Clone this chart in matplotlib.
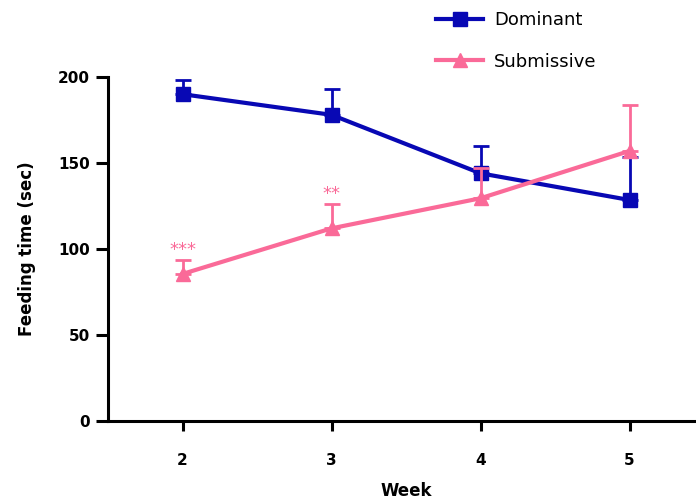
import matplotlib.pyplot as plt
from matplotlib.lines import Line2D

weeks = [2, 3, 4, 5]
dominant = [190, 178, 144, 128.5]
dominant_err = [8, 15, 16, 25]
submissive = [85.5, 112, 129.5, 157]
submissive_err = [8, 14, 17.5, 26.5]
stars = {2: "***", 3: "**"}

BLUE = "#0808b4"
PINK = "#fa6a98"

plt.rcParams["font.family"] = ["DejaVu Sans"]

fig = plt.figure(figsize=(6.96, 5.03), dpi=100)
ax = fig.add_axes([108 / 696, 1 - 421 / 503, (704 - 108) / 696, (421 - 77) / 503])

ax.errorbar(weeks, dominant, yerr=[[0] * 4, dominant_err], color=BLUE, lw=3,
            marker="s", ms=10, elinewidth=2, capsize=6, capthick=2, zorder=3,
            clip_on=False)
ax.errorbar(weeks, submissive, yerr=[[0] * 4, submissive_err], color=PINK, lw=3,
            marker="^", ms=10, elinewidth=2, capsize=6, capthick=2, zorder=4,
            clip_on=False)

for wk, s in stars.items():
    i = weeks.index(wk)
    ax.text(wk, submissive[i] + submissive_err[i] + 0.5, s, color=PINK,
            ha="center", va="bottom", fontsize=13)

ax.set_xlim(1.5, 5.5)
ax.set_ylim(0, 200)
ax.set_xticks(weeks)
ax.set_yticks([0, 50, 100, 150, 200])
for side in ["top", "right"]:
    ax.spines[side].set_visible(False)
for side in ["left", "bottom"]:
    ax.spines[side].set_linewidth(2.2)
ax.tick_params(axis="y", direction="out", length=9, width=2.2, labelsize=11, pad=4)
ax.tick_params(axis="x", direction="out", length=7, width=2.2, labelsize=11, pad=16)
for lab in ax.get_xticklabels() + ax.get_yticklabels():
    lab.set_fontweight("bold")

ax.set_ylabel("Feeding time (sec)", fontsize=12, fontweight="bold", labelpad=16)
ax.set_xlabel("Week", fontsize=12, fontweight="bold", labelpad=10)

handles = [
    Line2D([], [], color=BLUE, lw=3, marker="s", ms=10),
    Line2D([], [], color=PINK, lw=3, marker="^", ms=10),
]
fig.legend(handles, ["Dominant", "Submissive"], loc="upper left",
           bbox_to_anchor=(420 / 696, 1.01), frameon=False, fontsize=13,
           handlelength=2.6, labelspacing=1.3, handletextpad=0.6)

fig.savefig("out.png", dpi=100)
